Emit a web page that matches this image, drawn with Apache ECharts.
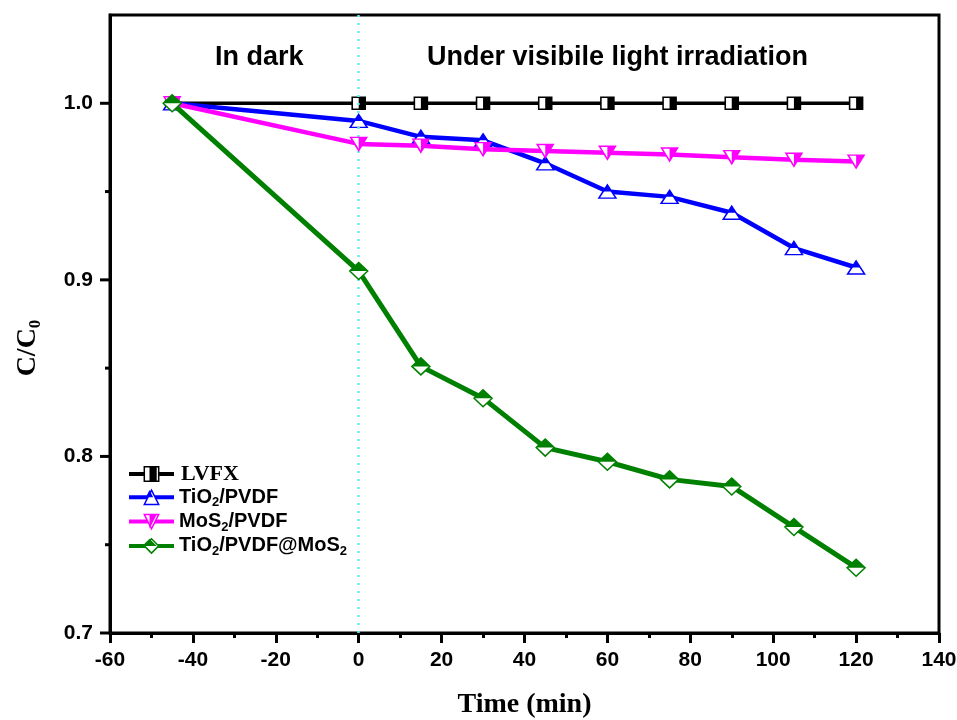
<!DOCTYPE html>
<html>
<head>
<meta charset="utf-8">
<script src="https://cdn.jsdelivr.net/npm/echarts@6/dist/echarts.min.js"></script>
<style>
  html, body { margin: 0; padding: 0; background: #fff; }
  #chart { width: 957px; height: 720px; }
</style>
</head>
<body>
<div id="chart"></div>
<script>
// Irradiation time in minutes (negative = adsorption in the dark)
const times = [-45, 0, 15, 30, 45, 60, 75, 90, 105, 120];
// Relative concentration C/C0
const lvfx = [1.0, 1.0, 1.0, 1.0, 1.0, 1.0, 1.0, 1.0, 1.0, 1.0];
const tio2Pvdf = [1.0, 0.990, 0.981, 0.979, 0.966, 0.950, 0.947, 0.938, 0.918, 0.907];
const mos2Pvdf = [1.0, 0.977, 0.976, 0.974, 0.973, 0.972, 0.971, 0.9695, 0.968, 0.967];
const tio2PvdfMos2 = [1.0, 0.905, 0.851, 0.833, 0.805, 0.797, 0.787, 0.783, 0.760, 0.737];

const seriesNames = ['LVFX', 'TiO2/PVDF', 'MoS2/PVDF', 'TiO2/PVDF@MoS2'];
const seriesValues = [lvfx, tio2Pvdf, mos2Pvdf, tio2PvdfMos2];
const yTicks = [0.7, 0.8, 0.9, 1.0];
const yMinorTicks = [0.75, 0.85, 0.95];

const SANS = 'Liberation Sans, Arial, sans-serif';
const SERIF = 'Liberation Serif, Times New Roman, serif';

const colors = ['#000000', '#0000ff', '#ff00ff', '#008000'];
const lineWidths = [3.5, 4.5, 4.5, 5];

// Whole (white) marker outlines
const outlineSymbols = ['rect', 'triangle', 'path://M0,0 L2,0 L1,2 Z', 'diamond'];
const outlineSizes = [[13, 12], [17, 13], [16, 13], [18, 17]];

// Filled halves of each marker, placed over the outline
const halfSymbols = ['rect', 'triangle', 'path://M0,0 L1,0 L0,1 Z', 'triangle'];
const halfSizes = [[6.5, 12], [8.5, 6.5], [8, 13], [18, 8.5]];
const halfOffsets = [[3.25, 0], [0, -3.25], [4, 0], [0, -4.25]];

// Legend icon geometry (box = itemWidth x itemHeight)
const LW = 45, LH = 18;
const box = 'M0,0 L0,0.01 M' + LW + ',' + LH + ' L' + LW + ',' + (LH - 0.01) + ' ';
const s = LH * 0.8, cx = LW / 2, cy = LH / 2, h = s / 2;
const legendHalfIcons = [
  'path://' + box + 'M' + cx + ',' + (cy - h) + ' L' + (cx + h) + ',' + (cy - h) + ' L' + (cx + h) + ',' + (cy + h) + ' L' + cx + ',' + (cy + h) + ' Z',
  'path://' + box + 'M' + cx + ',' + (cy - h) + ' L' + (cx + h / 2) + ',' + cy + ' L' + (cx - h / 2) + ',' + cy + ' Z',
  'path://' + box + 'M' + cx + ',' + (cy - h) + ' L' + (cx + h) + ',' + (cy - h) + ' L' + cx + ',' + (cy + h) + ' Z',
  'path://' + box + 'M' + cx + ',' + (cy - h) + ' L' + (cx + h) + ',' + cy + ' L' + (cx - h) + ',' + cy + ' Z'
];

function legendLabel(name) {
  const base = name.replace(/ \(fill\)$/, '');
  if (base === 'LVFX') return '{t|LVFX}';
  return base.split('2').map(function (p, i, arr) {
    return (p ? '{a|' + p + '}' : '') + (i < arr.length - 1 ? '{s|2}' : '');
  }).join('');
}

function legendRich(color) {
  return {
    t: { fontFamily: SERIF, fontWeight: 'bold', fontSize: 22, lineHeight: 24, color: color, verticalAlign: 'middle', padding: [0, 0, 0, 2] },
    a: { fontFamily: SANS, fontWeight: 'bold', fontSize: 20, lineHeight: 24, color: color, verticalAlign: 'middle' },
    s: { fontFamily: SANS, fontWeight: 'bold', fontSize: 13, lineHeight: 13, color: color, verticalAlign: 'bottom' }
  };
}

const series = [];
seriesNames.forEach(function (name, i) {
  const data = times.map(function (t, k) { return [t, seriesValues[i][k]]; });
  series.push({
    name: name,
    type: 'line',
    z: 2 + 2 * i,
    data: data,
    symbol: outlineSymbols[i],
    symbolSize: outlineSizes[i],
    showAllSymbol: true,
    lineStyle: { color: colors[i], width: lineWidths[i] },
    itemStyle: { color: '#ffffff', borderColor: colors[i], borderWidth: 1.5 },
    emphasis: { disabled: true },
    animation: false,
    markLine: i === 0 ? {
      silent: true,
      symbol: 'none',
      label: { show: false },
      lineStyle: { color: '#5eeef4', width: 2.5, type: [2, 6] },
      data: [{ xAxis: 0 }]
    } : undefined
  });
  series.push({
    name: name + ' (fill)',
    type: 'scatter',
    z: 3 + 2 * i,
    data: data,
    symbol: halfSymbols[i],
    symbolSize: halfSizes[i],
    symbolOffset: halfOffsets[i],
    itemStyle: { color: colors[i], borderWidth: 0, opacity: 1 },
    silent: true,
    animation: false
  });
});

// Outward tick marks on the left edge of the plot (major 10 px, minor 5 px)
series.push({
  name: 'y ticks',
  type: 'custom',
  coordinateSystem: 'cartesian2d',
  clip: false,
  silent: true,
  z: 50,
  animation: false,
  data: yTicks.map(function (v) { return [0, v, 10]; })
    .concat(yMinorTicks.map(function (v) { return [0, v, 5]; })),
  renderItem: function (params, api) {
    const left = params.coordSys.x;
    const y = api.coord([0, api.value(1)])[1];
    const len = api.value(2);
    return {
      type: 'line',
      shape: { x1: left - len, y1: y, x2: left, y2: y },
      style: { stroke: '#000', lineWidth: 3 }
    };
  }
});

const chart = echarts.init(document.getElementById('chart'), null, { renderer: 'canvas' });

const commonLegend = {
  orient: 'vertical',
  left: 127,
  top: 463,
  itemWidth: LW,
  itemHeight: LH,
  itemGap: 2.3,
  padding: 0,
  selectedMode: false,
  formatter: legendLabel
};

chart.setOption({
  backgroundColor: '#ffffff',
  animation: false,
  grid: {
    left: 110, right: 18, top: 15, bottom: 87,
    outerBoundsMode: 'none',
    containLabel: false,
    show: true, borderColor: '#000', borderWidth: 3, backgroundColor: 'transparent'
  },
  graphic: [
    { type: 'text', left: 215, top: 44, style: { text: 'In dark', font: 'bold 27px ' + SANS, fill: '#000' } },
    { type: 'text', left: 427, top: 44, style: { text: 'Under visibile light irradiation', font: 'bold 27px ' + SANS, fill: '#000' } }
  ],
  legend: [
    Object.assign({}, commonLegend, {
      data: seriesNames,
      textStyle: { rich: legendRich('#000') },
      lineStyle: { width: 4 },
      itemStyle: { color: '#ffffff', borderWidth: 1.5 }
    }),
    Object.assign({}, commonLegend, {
      data: seriesNames.map(function (n, i) { return { name: n + ' (fill)', icon: legendHalfIcons[i] }; }),
      textStyle: { rich: legendRich('rgba(0,0,0,0)') }
    })
  ],
  xAxis: {
    type: 'value',
    min: -60, max: 140, interval: 20,
    name: 'Time (min)',
    nameLocation: 'middle',
    nameGap: 58,
    nameTextStyle: { fontFamily: SERIF, fontWeight: 'bold', fontSize: 28, color: '#000' },
    axisLine: { show: true, onZero: false, lineStyle: { color: '#000', width: 3 } },
    axisTick: { show: true, inside: false, length: 10, lineStyle: { color: '#000', width: 3 } },
    minorTick: { show: true, splitNumber: 2, length: 5, lineStyle: { color: '#000', width: 3 } },
    axisLabel: { margin: 17, fontFamily: SANS, fontWeight: 'bold', fontSize: 21, color: '#000' },
    splitLine: { show: false },
    minorSplitLine: { show: false }
  },
  yAxis: {
    type: 'value',
    min: 0.7, max: 1.05,
    name: '{m|C/C}{s|0}',
    nameLocation: 'middle',
    nameRotate: 90,
    nameGap: 66,
    nameTextStyle: {
      padding: [0, 48, 0, 0],
      rich: {
        m: { fontFamily: SERIF, fontWeight: 'bold', fontSize: 28, lineHeight: 32, color: '#000', verticalAlign: 'middle' },
        s: { fontFamily: SERIF, fontWeight: 'bold', fontSize: 17, lineHeight: 17, color: '#000', verticalAlign: 'bottom' }
      }
    },
    axisLine: { show: true, onZero: false, lineStyle: { color: '#000', width: 3 } },
    axisTick: { show: false },
    axisLabel: {
      margin: 17, customValues: yTicks,
      fontFamily: SANS, fontWeight: 'bold', fontSize: 21, color: '#000',
      formatter: function (v) { return v.toFixed(1); }
    },
    splitLine: { show: false }
  },
  series: series
});
</script>
</body>
</html>
